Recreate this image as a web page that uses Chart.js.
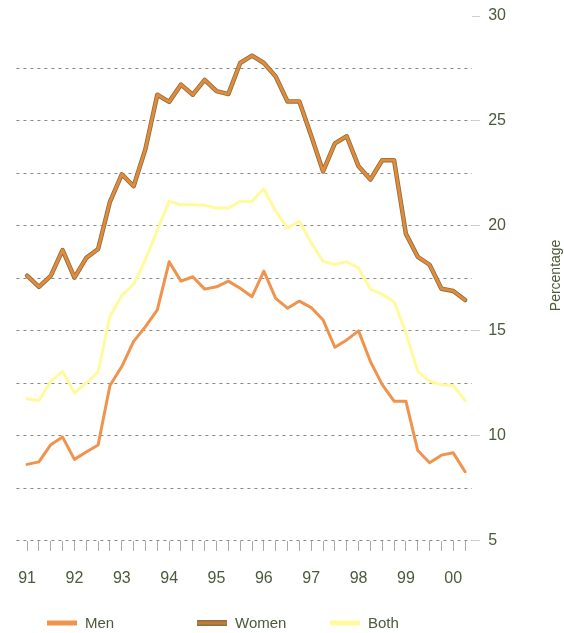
<!DOCTYPE html>
<html>
<head>
<meta charset="utf-8">
<title>Percentage by sex, 1991-2000</title>
<script src="https://cdn.jsdelivr.net/npm/chart.js@4.4.1/dist/chart.umd.min.js"></script>
<style>
    html, body { margin: 0; padding: 0; background: #fff; }
    #wrap { width: 564px; height: 633px; }
</style>
</head>
<body>
<div id="wrap"><canvas id="rateChart"></canvas></div>
<script>
// quarterly series, 91 Q1 .. 00 Q2
const years = ['91', '92', '93', '94', '95', '96', '97', '98', '99', '00'];
const quarters = years.flatMap(y => ['Q1', 'Q2', 'Q3', 'Q4'].map(q => y + ' ' + q)).slice(0, 38);

const men = [8.64, 8.76, 9.58, 9.94, 8.88, 9.23, 9.56, 12.4, 13.3, 14.5,
    15.2, 16.0, 18.29, 17.37, 17.58, 16.99, 17.1, 17.37, 17.03, 16.63,
    17.85, 16.55, 16.08, 16.42, 16.11, 15.52, 14.22, 14.57, 15.0, 13.54,
    12.44, 11.65, 11.65, 9.3, 8.72, 9.08, 9.19, 8.29];

const women = [17.63, 17.1, 17.62, 18.85, 17.54, 18.48, 18.9, 21.15, 22.46, 21.89,
    23.67, 26.25, 25.91, 26.73, 26.25, 26.96, 26.42, 26.28, 27.76, 28.11,
    27.76, 27.12, 25.93, 25.93, 24.3, 22.6, 23.93, 24.27, 22.84, 22.21,
    23.13, 23.13, 19.62, 18.53, 18.15, 17.01, 16.9, 16.47];

const both = [11.77, 11.68, 12.59, 13.07, 12.04, 12.52, 13.04, 15.7, 16.68, 17.22,
    18.4, 19.8, 21.17, 21.01, 21.01, 20.98, 20.85, 20.85, 21.17, 21.17,
    21.77, 20.7, 19.9, 20.22, 19.2, 18.32, 18.16, 18.29, 18.0, 16.99,
    16.74, 16.39, 14.9, 13.07, 12.6, 12.44, 12.4, 11.68];

const yTicks = [5, 10, 15, 20, 25, 30];

const TEXT = '#4b5a3a';
const FONT = '"Liberation Sans", Arial, sans-serif';
const MEN_COLOR = '#f0934c';
const WOMEN_EDGE = '#8c7040';
const WOMEN_CORE = '#e38b3b';
const BOTH_COLOR = '#fffa9c';

const toPoints = arr => arr.map((v, i) => ({ x: i, y: v }));

// y title reads bottom-to-top and the legend has uneven spacing, so both are drawn here
const extras = {
    id: 'extras',
    afterDraw(chart) {
        const { ctx, chartArea } = chart;
        ctx.save();
        ctx.fillStyle = TEXT;
        ctx.font = '14px ' + FONT;
        ctx.textAlign = 'center';
        ctx.textBaseline = 'middle';
        ctx.translate(556, (chartArea.top + chartArea.bottom) / 2 - 3);
        ctx.rotate(-Math.PI / 2);
        ctx.fillText('Percentage', 0, 0);
        ctx.restore();

        const items = [
            { text: 'Men', x: 47, fill: MEN_COLOR },
            { text: 'Women', x: 197, fill: WOMEN_CORE, edge: WOMEN_EDGE },
            { text: 'Both', x: 330, fill: BOTH_COLOR }
        ];
        const y = 623;
        ctx.save();
        ctx.font = '15px ' + FONT;
        ctx.textBaseline = 'middle';
        items.forEach(it => {
            if (it.edge) {
                ctx.fillStyle = it.edge;
                ctx.fillRect(it.x, y - 3, 30, 6);
                ctx.fillStyle = '#c07a3a';
                ctx.fillRect(it.x, y - 1.5, 30, 3);
            } else {
                ctx.fillStyle = it.fill;
                ctx.fillRect(it.x, y - 2.5, 30, 5);
            }
            ctx.fillStyle = TEXT;
            ctx.fillText(it.text, it.x + 38, y + 1);
        });
        ctx.restore();
    }
};

new Chart(document.getElementById('rateChart'), {
    type: 'line',
    data: {
        datasets: [
            {
                label: 'Both',
                data: toPoints(both),
                borderColor: BOTH_COLOR,
                borderWidth: 3,
                order: 3
            },
            {
                label: 'Men',
                data: toPoints(men),
                borderColor: MEN_COLOR,
                borderWidth: 3,
                order: 2
            },
            {
                label: 'Women (edge)',
                data: toPoints(women),
                borderColor: WOMEN_EDGE,
                borderWidth: 4.5,
                order: 1
            },
            {
                label: 'Women',
                data: toPoints(women),
                borderColor: WOMEN_CORE,
                borderWidth: 2.8,
                order: 0
            }
        ]
    },
    options: {
        responsive: true,
        maintainAspectRatio: false,
        animation: false,
        elements: {
            point: { radius: 0 },
            line: { tension: 0, borderJoinStyle: 'round', borderCapStyle: 'round' }
        },
        layout: { padding: { left: 8, right: 50, top: 6, bottom: 27 } },
        plugins: {
            legend: { display: false },
            tooltip: { enabled: false }
        },
        scales: {
            x: {
                type: 'linear',
                min: -0.9,
                max: 37.6,
                border: { display: false },
                grid: {
                    drawOnChartArea: false,
                    tickLength: 10,
                    tickColor: '#a9a9a0'
                },
                ticks: {
                    stepSize: 1,
                    autoSkip: false,
                    includeBounds: false,
                    maxRotation: 0,
                    padding: 18,
                    color: TEXT,
                    font: { family: FONT, size: 16 },
                    callback: v => (v % 4 === 0 ? years[v / 4] : '')
                }
            },
            y: {
                position: 'right',
                min: 5,
                max: 30,
                border: { display: false, dash: [3, 4] },
                grid: {
                    color: ctx => (ctx.tick.value === 30 ? 'rgba(0,0,0,0)' : '#8a8a82'),
                    lineWidth: 1,
                    tickLength: 8,
                    tickBorderDash: [],
                    tickColor: ctx => (yTicks.includes(ctx.tick.value) ? '#cfcfc8' : 'rgba(0,0,0,0)')
                },
                ticks: {
                    stepSize: 2.5,
                    padding: 8,
                    color: TEXT,
                    font: { family: FONT, size: 16, lineHeight: 1 },
                    callback: v => (yTicks.includes(v) ? v : '')
                }
            }
        }
    },
    plugins: [extras]
});
</script>
</body>
</html>
